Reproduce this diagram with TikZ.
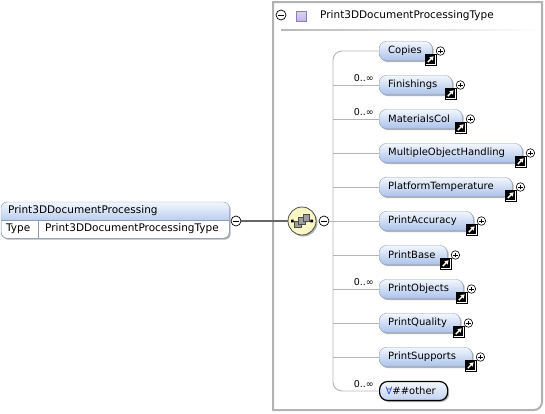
\documentclass[tikz,border=0pt]{standalone}
\usepackage{fontspec}
\setmainfont{DejaVu Sans}
\usepackage{xcolor}
\usetikzlibrary{calc, positioning, shadows, arrows.meta}
\definecolor{elemtop}{HTML}{F3F7FD}
\definecolor{elembot}{HTML}{ABC2EA}
\definecolor{elemline}{HTML}{8D9CB7}
\definecolor{boxgray}{HTML}{B2B2B2}
\definecolor{wiregray}{HTML}{B4B4B4}
\definecolor{seqfill}{HTML}{FAF6C6}
\definecolor{typesq}{HTML}{C4B6E6}
\definecolor{typesqline}{HTML}{8C7CBE}
\definecolor{anyblue}{HTML}{2F4FC8}
\newcommand\elemfont{\fontsize{10pt}{12pt}\selectfont}
\newcommand\hdfont{\fontsize{10.5pt}{12pt}\selectfont}
\newcommand\cardfont{\fontsize{9.5pt}{11pt}\selectfont}
\tikzset{
  elem/.style={draw=elemline, rounded corners=7pt, top color=elemtop, bottom color=elembot,
    minimum height=19pt, inner xsep=9pt, inner ysep=0pt, text width=#1, anchor=west,
    font=\elemfont, drop shadow={shadow xshift=1.5pt, shadow yshift=-1.5pt, opacity=.3, fill=black}},
  wire/.style={draw=wiregray, line width=.9pt},
  link/.style={draw=black!60, line width=2pt},
  card/.style={anchor=base east, font=\cardfont, inner sep=0pt},
  plusc/.style={circle, draw, fill=white, minimum size=8.5pt, inner sep=0pt, line width=.6pt,
    path picture={\draw[line width=.6pt] ([xshift=-2.4pt]path picture bounding box.center) -- ([xshift=2.4pt]path picture bounding box.center)
      ([yshift=-2.4pt]path picture bounding box.center) -- ([yshift=2.4pt]path picture bounding box.center);}},
  minusc/.style={circle, draw, fill=white, minimum size=10pt, inner sep=0pt, line width=.7pt,
    path picture={\draw[line width=.7pt] ([xshift=-2.8pt]path picture bounding box.center) -- ([xshift=2.8pt]path picture bounding box.center);}},
  refarrow/.pic={
    \draw[fill=white, line width=.5pt] (-5.5pt,-5.5pt) rectangle (5.5pt,5.5pt);
    \fill (-4.3pt,-4.3pt) rectangle (4.3pt,4.3pt);
    \draw[white, line width=1.3pt, -{Triangle[length=3.6pt,width=4.4pt]}] (-2.6pt,-2.6pt) -- (3.2pt,3.2pt);},
  seqicon/.pic={
    \draw[black!75, line width=.8pt] (-10pt,0pt) -- (10pt,0pt);
    \fill[black] (-11pt,-1.3pt) rectangle (-8.4pt,1.3pt) (8.4pt,-1.3pt) rectangle (11pt,1.3pt);
    \draw[black!70, fill=black!38, line width=.6pt] (-7.5pt,-6.5pt) rectangle (-1pt,0pt);
    \draw[black!70, fill=black!38, line width=.6pt] (-3.3pt,-3.3pt) rectangle (3.3pt,3.3pt);
    \draw[black!70, fill=black!38, line width=.6pt] (1pt,0pt) rectangle (7.5pt,6.5pt);}
}
\newcommand\extras[1]{%
  \pic at ($(#1.east)+(-2,8.5)$) {refarrow};
  \node[plusc] (#1plus) at ($(#1.east)+(8,0)$) {};}

\begin{document}
\begin{tikzpicture}[x=1pt, y=-1pt]
\useasboundingbox (0,0) rectangle (545,413);
% type container
\draw[boxgray, line width=2pt] (542,2) [rounded corners=8pt] -- (542,410) [sharp corners] -- (273,410) -- (273,2) -- cycle;
\node[minusc] (typeminus) at (281,15) {};
\node[draw=typesqline, top color=typesq!60!white, bottom color=typesq, minimum size=9.5pt, inner sep=0pt] (typesq) at (301,16) {};
\node[anchor=west, font=\hdfont, inner sep=0pt] (typename) at (320,16) {Print3DDocumentProcessingType};
\shade[left color=black!28, right color=white] (281,29) rectangle (540,30.5);

% element on the left
\node[draw=elemline, fill=white, rounded corners=6pt, minimum width=228pt, minimum height=36pt, anchor=north west,
  drop shadow={shadow xshift=1.5pt, shadow yshift=-1.5pt, opacity=.3, fill=black}] (doc) at (1,202) {};
\begin{scope}
  \clip[rounded corners=6pt] (doc.north west) rectangle (doc.south east);
  \shade[top color=elemtop, bottom color=elembot!80!white] (doc.north west) rectangle (doc.east |- 0,220);
\end{scope}
\draw[elemline, rounded corners=6pt] (doc.north west) rectangle (doc.south east);
\draw[elemline] (doc.west |- 0,220) -- (doc.east |- 0,220);
\draw[elemline] (38,220) -- (doc.south west -| 38,0);
\node[anchor=west, font=\hdfont, inner sep=0pt] (docname) at (8,211) {Print3DDocumentProcessing};
\node[anchor=west, font=\hdfont, inner sep=0pt] (doctype) at (6,229) {Type};
\node[anchor=west, font=\hdfont, inner sep=0pt] (doctypeval) at (45,229) {Print3DDocumentProcessingType};
\node[minusc] (docminus) at (236,221) {};

% sequence
\node[circle, draw=black!70, line width=.8pt, fill=seqfill, minimum size=28pt, inner sep=0pt,
  drop shadow={shadow xshift=1.5pt, shadow yshift=-1.5pt, opacity=.3, fill=black}] (seq) at (302,221) {};
\pic at (seq) {seqicon};
\node[minusc] (seqminus) at (324,221) {};
\draw[link] (docminus) -- (seq);

% children
\node[elem=35pt]  (copies)     at (379,51)  {Copies};
\node[elem=55pt]  (finishings) at (379,85)  {Finishings};
\node[elem=65pt]  (materials)  at (379,119) {MaterialsCol};
\node[elem=125pt] (multiple)   at (379,153) {MultipleObjectHandling};
\node[elem=115pt] (platform)   at (379,187) {PlatformTemperature};
\node[elem=76pt]  (accuracy)   at (379,221) {PrintAccuracy};
\node[elem=50pt]  (printbase)  at (379,255) {PrintBase};
\node[elem=66pt]  (objects)    at (379,289) {PrintObjects};
\node[elem=63pt]  (quality)    at (379,323) {PrintQuality};
\node[elem=75pt]  (supports)   at (379,357) {PrintSupports};
\node[elem=56pt, draw=black, line width=1.2pt, rounded corners=8pt, top color=elemtop, bottom color=elembot!75!white,
  inner xsep=6pt] (other) at (379,391) {{\color{anyblue}∀}\#\#other};
\extras{copies}
\extras{finishings}
\extras{materials}
\extras{multiple}
\extras{platform}
\extras{accuracy}
\extras{printbase}
\extras{objects}
\extras{quality}
\extras{supports}

% wires
\coordinate (bus) at (333,0);
\draw[wire, rounded corners=9pt] (copies.west) -- (copies.west -| bus) -- (other.west -| bus) -- (other.west);
\draw[wire] (seqminus) -- (accuracy.west);
\draw[wire] (finishings.west -| bus) -- (finishings.west);
\draw[wire] (materials.west -| bus) -- (materials.west);
\draw[wire] (multiple.west -| bus) -- (multiple.west);
\draw[wire] (platform.west -| bus) -- (platform.west);
\draw[wire] (printbase.west -| bus) -- (printbase.west);
\draw[wire] (objects.west -| bus) -- (objects.west);
\draw[wire] (quality.west -| bus) -- (quality.west);
\draw[wire] (supports.west -| bus) -- (supports.west);

% cardinalities
\node[card] (cardfin) at (374,81)  {0..∞};
\node[card] (cardmat) at (374,115) {0..∞};
\node[card] (cardobj) at (374,285) {0..∞};
\node[card] (cardoth) at (374,387) {0..∞};
\end{tikzpicture}
\end{document}
